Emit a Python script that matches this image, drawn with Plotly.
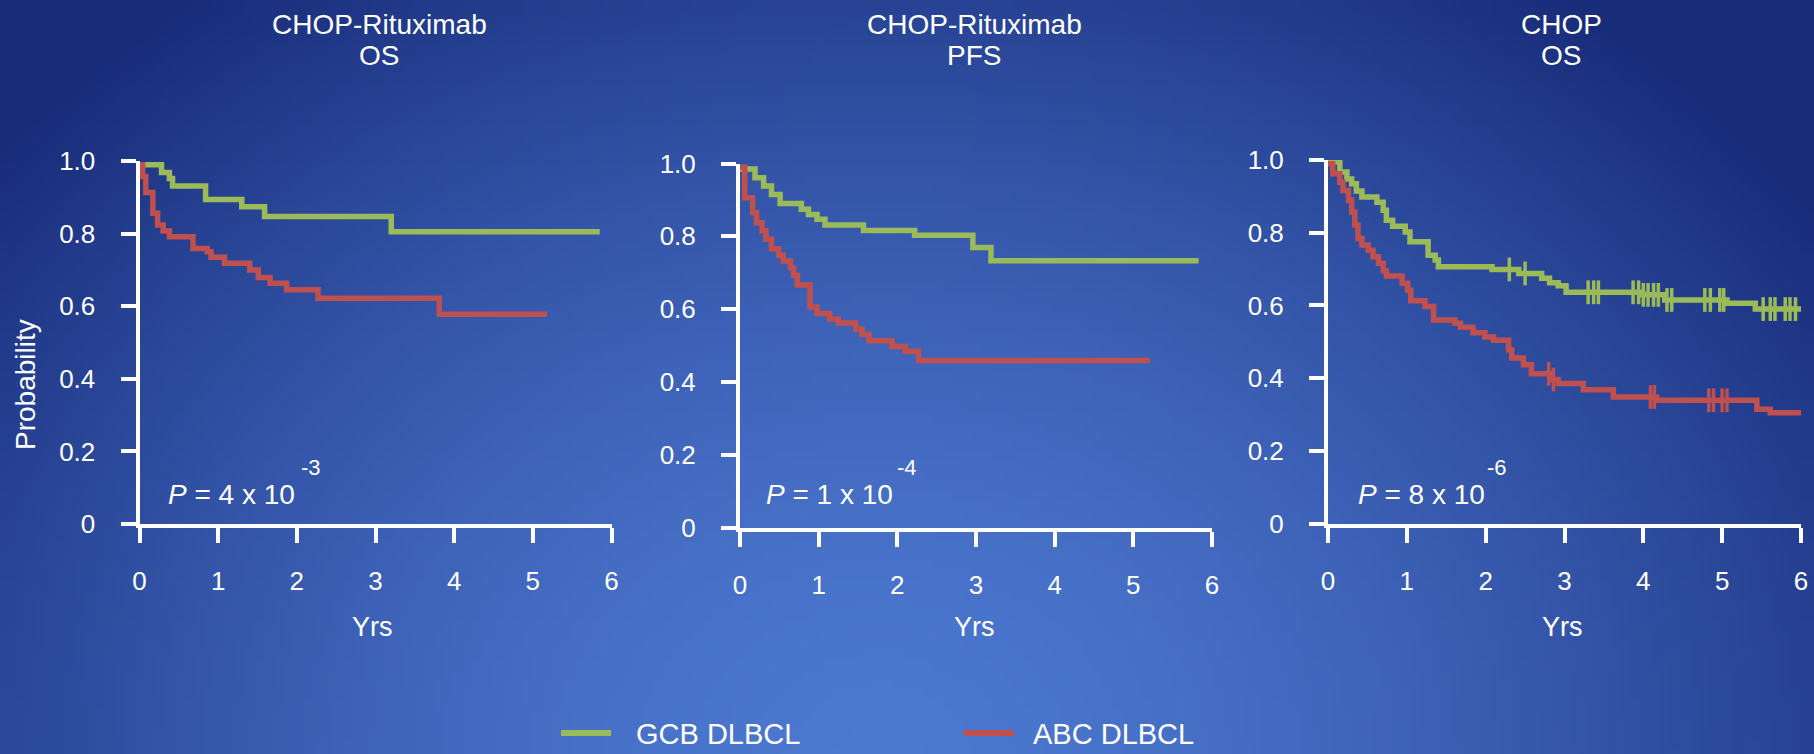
import base64
import math
import struct
import zlib

import plotly.graph_objects as go

W, H = 1814, 754
FONT = "Liberation Sans, Arial, Helvetica, sans-serif"
GREEN = "#9BBB59"
RED = "#C0504D"

# ---------------- data ----------------
x_tick_vals = [0, 1, 2, 3, 4, 5, 6]
x_tick_text = ["0", "1", "2", "3", "4", "5", "6"]
y_tick_vals = [0, 0.2, 0.4, 0.6, 0.8, 1.0]
y_tick_text = ["0", "0.2", "0.4", "0.6", "0.8", "1.0"]

series_names = ["GCB DLBCL", "ABC DLBCL"]
panel_title_top = ["CHOP-Rituximab", "CHOP-Rituximab", "CHOP"]
panel_title_bottom = ["OS", "PFS", "OS"]
p_mantissa = ["4", "1", "8"]
p_exponent = ["-3", "-4", "-6"]
x_title = "Yrs"
y_title = "Probability"

# Panel 1: CHOP-Rituximab OS
p1_gcb_t = [0, 0.28, 0.38, 0.42, 0.84, 1.30, 1.59, 3.20, 5.85]
p1_gcb_s = [0.99, 0.968, 0.952, 0.931, 0.894, 0.874, 0.847, 0.805, 0.805]
p1_abc_t = [0, 0.04, 0.08, 0.17, 0.23, 0.30, 0.38, 0.68, 0.86, 0.91, 1.08,
            1.40, 1.51, 1.66, 1.87, 2.27, 3.81, 5.18]
p1_abc_s = [0.99, 0.957, 0.913, 0.856, 0.824, 0.807, 0.791, 0.759, 0.750,
            0.735, 0.718, 0.700, 0.679, 0.663, 0.645, 0.622, 0.578, 0.578]

# Panel 2: CHOP-Rituximab PFS
p2_gcb_t = [0, 0.19, 0.30, 0.40, 0.51, 0.78, 0.87, 0.98, 1.08, 1.57, 2.22,
            2.96, 3.19, 5.83]
p2_gcb_s = [0.985, 0.961, 0.938, 0.915, 0.890, 0.874, 0.860, 0.847, 0.831,
            0.816, 0.803, 0.769, 0.733, 0.733]
p2_abc_t = [0, 0.06, 0.16, 0.21, 0.28, 0.33, 0.40, 0.49, 0.55, 0.64, 0.68,
            0.73, 0.89, 0.98, 1.14, 1.25, 1.47, 1.55, 1.64, 1.93, 2.10, 2.27,
            5.21]
p2_abc_s = [0.99, 0.906, 0.865, 0.837, 0.815, 0.792, 0.766, 0.748, 0.732,
            0.714, 0.693, 0.666, 0.605, 0.588, 0.573, 0.562, 0.545, 0.530,
            0.513, 0.497, 0.484, 0.459, 0.459]

# Panel 3: CHOP OS
p3_gcb_t = [0, 0.15, 0.24, 0.30, 0.36, 0.43, 0.62, 0.70, 0.74, 0.82, 0.98,
            1.04, 1.27, 1.36, 1.40, 2.08, 2.42, 2.71, 2.81, 2.92, 3.02, 3.99,
            4.27, 5.06, 5.42, 6.0]
p3_gcb_s = [0.995, 0.967, 0.948, 0.935, 0.915, 0.898, 0.884, 0.862, 0.834,
            0.818, 0.802, 0.775, 0.738, 0.725, 0.706, 0.699, 0.688, 0.675,
            0.662, 0.654, 0.636, 0.629, 0.615, 0.606, 0.590, 0.590]
p3_gcb_censor = [2.30, 2.50, 3.30, 3.37, 3.43, 3.87, 3.94, 4.00, 4.06, 4.13,
                 4.19, 4.30, 4.36, 4.78, 4.85, 4.97, 5.02, 5.52, 5.61, 5.67,
                 5.80, 5.86, 5.93]
p3_abc_t = [0, 0.06, 0.15, 0.19, 0.26, 0.30, 0.34, 0.38, 0.43, 0.51, 0.57,
            0.64, 0.70, 0.74, 0.94, 1.01, 1.05, 1.23, 1.34, 1.61, 1.68, 1.84,
            1.99, 2.10, 2.29, 2.33, 2.48, 2.58, 2.84, 2.92, 3.24, 3.62, 4.17,
            5.44, 5.61, 6.0]
p3_abc_s = [0.99, 0.962, 0.939, 0.916, 0.889, 0.857, 0.821, 0.784, 0.766,
            0.752, 0.734, 0.716, 0.695, 0.681, 0.661, 0.642, 0.613, 0.597,
            0.560, 0.551, 0.540, 0.525, 0.513, 0.504, 0.478, 0.455, 0.437,
            0.412, 0.396, 0.385, 0.368, 0.348, 0.339, 0.314, 0.305, 0.305]
p3_abc_censor = [2.80, 2.86, 4.09, 4.14, 4.83, 4.89, 5.00, 5.06]

panels = [
    dict(gcb=(p1_gcb_t, p1_gcb_s), abc=(p1_abc_t, p1_abc_s),
         gcb_c=[], abc_c=[]),
    dict(gcb=(p2_gcb_t, p2_gcb_s), abc=(p2_abc_t, p2_abc_s),
         gcb_c=[], abc_c=[]),
    dict(gcb=(p3_gcb_t, p3_gcb_s), abc=(p3_abc_t, p3_abc_s),
         gcb_c=p3_gcb_censor, abc_c=p3_abc_censor),
]

# ---------------- layout geometry (pixels) ----------------
# plot area boxes: left, right, top(y=1.0), bottom(y=0)
boxes = [(139.5, 611.5, 161, 524), (740, 1212, 163.5, 527.5),
         (1328, 1801, 160, 523.5)]
title_x = [379, 974, 1561]
p_left = [166, 764, 1356]
sup_left = [299, 895, 1485]
yrs_x = [372, 974, 1562]


def px(x):
    return x / W


def py(y):
    return 1 - y / H


def surv_at(ts, ss, t):
    val = ss[0]
    for ti, si in zip(ts, ss):
        if ti <= t:
            val = si
        else:
            break
    return val


# ---------------- background gradient image ----------------
LIGHT = (76, 120, 208)
DARK = (24, 44, 122)


def gradient_png(w=182, h=76):
    rows = []
    for j in range(h):
        yy = (j + 0.5) / h * H
        row = bytearray([0])
        for i in range(w):
            xx = (i + 0.5) / w * W
            d = math.hypot((xx - 880) / 1150, (yy - 760) / 950)
            t = min(1.0, d) ** 1.6
            for a, b in zip(LIGHT, DARK):
                row.append(int(round(a + (b - a) * t)))
        rows.append(bytes(row))
    raw = b"".join(rows)

    def chunk(tag, data):
        c = struct.pack(">I", len(data)) + tag + data
        return c + struct.pack(">I", zlib.crc32(tag + data) & 0xFFFFFFFF)

    png = b"\x89PNG\r\n\x1a\n"
    png += chunk(b"IHDR", struct.pack(">IIBBBBB", w, h, 8, 2, 0, 0, 0))
    png += chunk(b"IDAT", zlib.compress(raw, 9))
    png += chunk(b"IEND", b"")
    return "data:image/png;base64," + base64.b64encode(png).decode()


fig = go.Figure()

for k, pan in enumerate(panels):
    xa = "x" if k == 0 else f"x{k + 1}"
    ya = "y" if k == 0 else f"y{k + 1}"
    for key, ckey, color, name in [("gcb", "gcb_c", GREEN, series_names[0]),
                                   ("abc", "abc_c", RED, series_names[1])]:
        ts, ss = pan[key]
        fig.add_trace(go.Scatter(
            x=ts, y=ss, mode="lines",
            line=dict(color=color, width=5.5, shape="hv"),
            name=name, showlegend=False, xaxis=xa, yaxis=ya, hoverinfo="skip"))
        if pan[ckey]:
            cs = pan[ckey]
            fig.add_trace(go.Scatter(
                x=cs, y=[surv_at(ts, ss, c) for c in cs], mode="markers",
                marker=dict(symbol="line-ns", size=17, color=color,
                            line=dict(color=color, width=3.5)),
                name=name, showlegend=False, xaxis=xa, yaxis=ya,
                hoverinfo="skip", cliponaxis=False))

axis_common = dict(showline=True, linecolor="white", linewidth=4,
                   ticks="outside", ticklen=15, tickwidth=4, tickcolor="white",
                   showgrid=False, zeroline=False, fixedrange=True,
                   automargin=False,
                   tickfont=dict(color="white", size=26, family=FONT))

layout = dict(
    width=W, height=H,
    margin=dict(l=0, r=0, t=0, b=0, pad=0, autoexpand=False),
    paper_bgcolor="#233d8f", plot_bgcolor="rgba(0,0,0,0)",
    showlegend=False,
    images=[dict(source=gradient_png(), xref="paper", yref="paper", x=0, y=1,
                 sizex=1, sizey=1, xanchor="left", yanchor="top",
                 sizing="stretch", layer="below")],
)

for k, (l, r, t, b) in enumerate(boxes):
    sx = "" if k == 0 else str(k + 1)
    layout["xaxis" + sx] = dict(
        axis_common, domain=[px(l), px(r)], range=[0, 6],
        tickvals=x_tick_vals, ticktext=x_tick_text, ticklabelstandoff=16,
        anchor="y" + sx)
    layout["yaxis" + sx] = dict(
        axis_common, domain=[py(b), py(t)], range=[0, 1],
        tickvals=y_tick_vals, ticktext=y_tick_text, ticklabelstandoff=20,
        anchor="x" + sx)

annotations = []


def add_text(text, x, y, size, xanchor="center", yanchor="middle", angle=0):
    annotations.append(dict(
        text=text, x=px(x), y=py(y), xref="paper", yref="paper",
        showarrow=False, xanchor=xanchor, yanchor=yanchor, textangle=angle,
        font=dict(color="white", size=size, family=FONT)))


for k in range(3):
    add_text(panel_title_top[k], title_x[k], 24, 28)
    add_text(panel_title_bottom[k], title_x[k], 55, 28)
    add_text(f"<i>P</i> = {p_mantissa[k]} x 10", p_left[k], 494, 28,
             xanchor="left")
    add_text(p_exponent[k], sup_left[k], 467, 22, xanchor="left")
    add_text(x_title, yrs_x[k], 627, 27)

add_text(y_title, 25, 385, 28, angle=-90)

# manual legend
legend_items = [(561, 611, 634, GREEN, series_names[0]),
                (964, 1014, 1031, RED, series_names[1])]
shapes = []
for x0, x1, tx, color, name in legend_items:
    shapes.append(dict(type="line", xref="paper", yref="paper",
                       x0=px(x0), x1=px(x1), y0=py(733), y1=py(733),
                       line=dict(color=color, width=6)))
    add_text(name, tx, 734, 29, xanchor="left")

layout["annotations"] = annotations
layout["shapes"] = shapes
fig.update_layout(**layout)

fig.write_html("out.html", config={"displayModeBar": False},
               post_script="document.body.style.margin='0';"
                           "document.body.style.overflow='hidden';")
